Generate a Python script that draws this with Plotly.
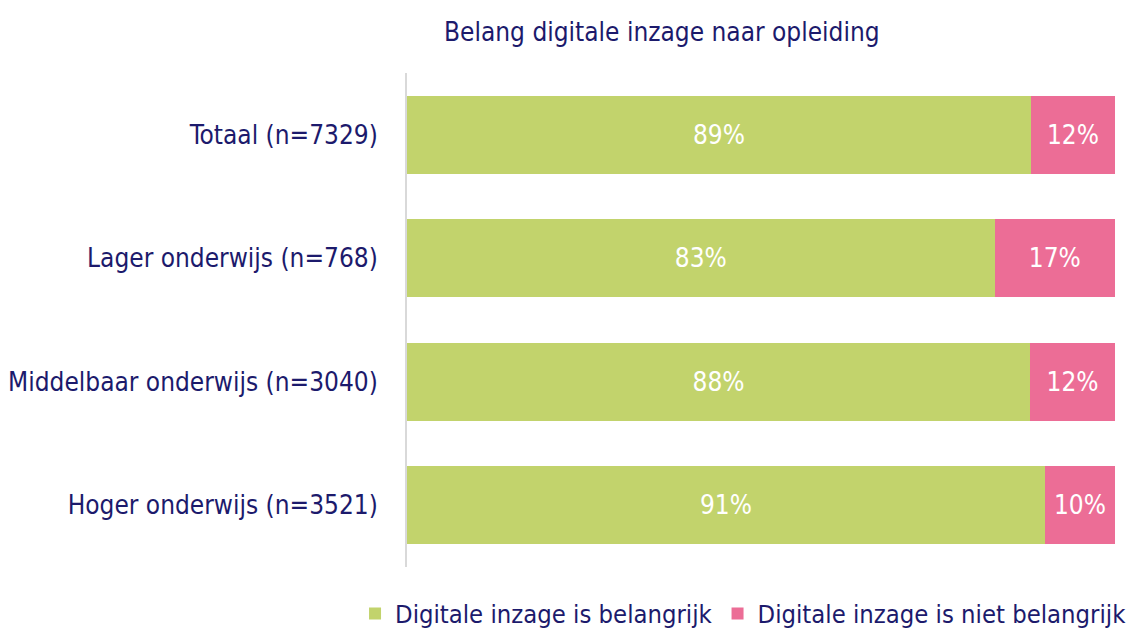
import plotly.graph_objects as go

categories = ["Totaal (n=7329)", "Lager onderwijs (n=768)",
              "Middelbaar onderwijs (n=3040)", "Hoger onderwijs (n=3521)"]
belangrijk = [89, 83, 88, 91]
niet_belangrijk = [12, 17, 12, 10]
series_names = ["Digitale inzage is belangrijk", "Digitale inzage is niet belangrijk"]

FONT = "Tahoma, 'DejaVu Sans Condensed', 'DejaVu Sans', sans-serif"
NAVY = "#1c1a6c"
GREEN = "#c2d36c"
PINK = "#ec6d96"
FS = 26

fig = go.Figure()
for name, vals, col in [(series_names[0], belangrijk, GREEN),
                        (series_names[1], niet_belangrijk, PINK)]:
    fig.add_trace(go.Bar(
        y=categories, x=vals, name=name, orientation="h",
        marker=dict(color=col, line=dict(width=0)),
        text=[f"{v}%" for v in vals], textposition="inside",
        insidetextanchor="middle",
        textfont=dict(color="white", size=FS, family=FONT),
        hoverinfo="skip",
    ))

fig.update_layout(
    barmode="stack", barnorm="percent", bargap=0.367,
    width=1137, height=628,
    margin=dict(l=399, r=30, t=65, b=69, autoexpand=False),
    paper_bgcolor="white", plot_bgcolor="white",
    font=dict(family=FONT, color=NAVY, size=FS),
    uniformtext=dict(mode=False),
    xaxis=dict(visible=False, range=[0, 100], fixedrange=True),
    yaxis=dict(autorange="reversed", showgrid=False, showline=True,
               linecolor="#d9d9d9", linewidth=2, ticks="",
               automargin=False, ticklabelstandoff=22,
               tickfont=dict(size=FS, color=NAVY, family=FONT)),
    legend=dict(orientation="h", x=-0.0734, xanchor="left",
                y=-0.0953, yanchor="middle",
                font=dict(size=25.4, color=NAVY, family=FONT),
                itemwidth=30, traceorder="normal"),
    annotations=[dict(text="Belang digitale inzage naar opleiding",
                      xref="paper", yref="paper", x=(662 - 407) / 708, y=1,
                      yshift=41, showarrow=False, xanchor="center",
                      yanchor="middle",
                      font=dict(size=FS, color=NAVY, family=FONT))],
    showlegend=True,
)

fig.write_html("out.html")
